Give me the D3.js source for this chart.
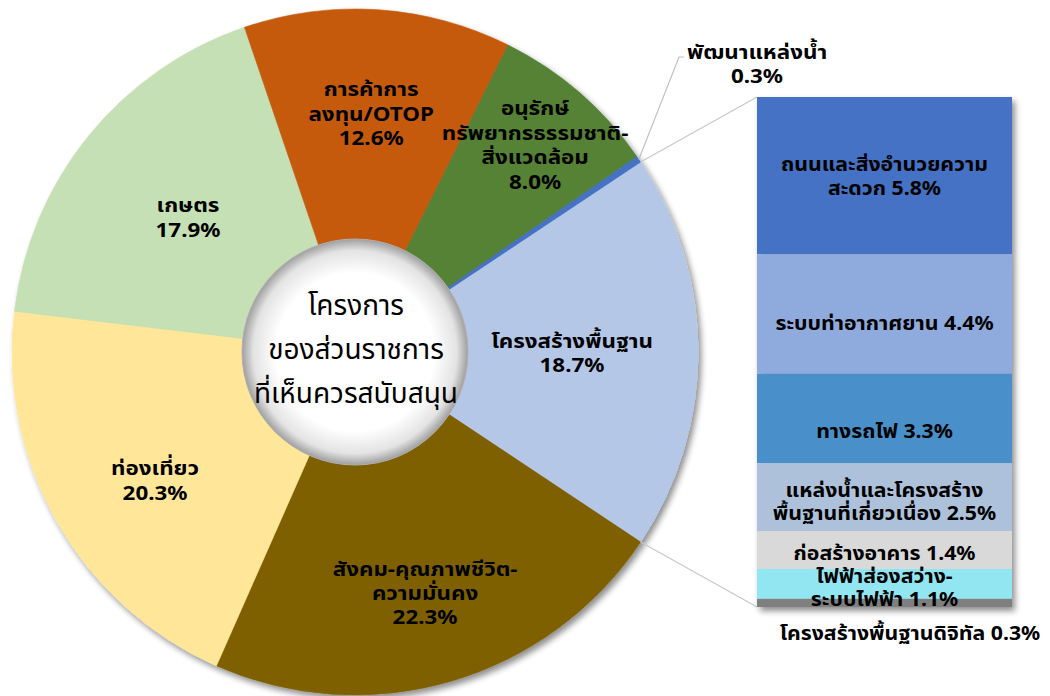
<!DOCTYPE html>
<html>
<head>
<meta charset="utf-8">
<script src="https://cdn.jsdelivr.net/npm/d3@7"></script>
<style>
  html, body { margin: 0; padding: 0; background: #ffffff; }
  svg { display: block; }
  text { font-family: "Noto Sans", "Noto Sans Thai", "DejaVu Sans", sans-serif; }
</style>
</head>
<body>
<div id="chart"></div>
<script>
// ---------- DATA ----------
const pieCategories = ["โครงสร้างพื้นฐาน", "สังคม-คุณภาพชีวิต-ความมั่นคง", "ท่องเที่ยว", "เกษตร", "การค้าการลงทุน/OTOP", "อนุรักษ์ทรัพยากรธรรมชาติ-สิ่งแวดล้อม", "พัฒนาแหล่งน้ำ"];
const pieValues = [18.7, 22.3, 20.3, 17.9, 12.6, 8.0, 0.3];
const pieLabelLines = [
  ["โครงสร้างพื้นฐาน", "18.7%"],
  ["สังคม-คุณภาพชีวิต-", "ความมั่นคง", "22.3%"],
  ["ท่องเที่ยว", "20.3%"],
  ["เกษตร", "17.9%"],
  ["การค้าการ", "ลงทุน/OTOP", "12.6%"],
  ["อนุรักษ์", "ทรัพยากรธรรมชาติ-", "สิ่งแวดล้อม", "8.0%"],
  ["พัฒนาแหล่งน้ำ", "0.3%"]
];
const barCategories = ["ถนนและสิ่งอำนวยความสะดวก", "ระบบท่าอากาศยาน", "ทางรถไฟ", "แหล่งน้ำและโครงสร้างพื้นฐานที่เกี่ยวเนื่อง", "ก่อสร้างอาคาร", "ไฟฟ้าส่องสว่าง-ระบบไฟฟ้า", "โครงสร้างพื้นฐานดิจิทัล"];
const barValues = [5.8, 4.4, 3.3, 2.5, 1.4, 1.1, 0.3];
const barLabelLines = [
  ["ถนนและสิ่งอำนวยความ", "สะดวก 5.8%"],
  ["ระบบท่าอากาศยาน 4.4%"],
  ["ทางรถไฟ 3.3%"],
  ["แหล่งน้ำและโครงสร้าง", "พื้นฐานที่เกี่ยวเนื่อง 2.5%"],
  ["ก่อสร้างอาคาร 1.4%"],
  ["ไฟฟ้าส่องสว่าง-", "ระบบไฟฟ้า 1.1%"],
  ["โครงสร้างพื้นฐานดิจิทัล 0.3%"]
];
const centerLines = ["โครงการ", "ของส่วนราชการ", "ที่เห็นควรสนับสนุน"];

// ---------- STYLE / LAYOUT ----------
const pieColors = ["#B4C7E7", "#7F6000", "#FFE699", "#C5E0B4", "#C55A11", "#548235", "#4472C4"];
const barColors = ["#4472C4", "#8FAADC", "#4A90CB", "#ADC2DA", "#D9D9D9", "#92E6F1", "#7F7F7F"];
const W = 1050, H = 696;
const cx = 355, cy = 352, R = 343, innerR = 113;
const labelRadius = [217, 250, 237, 215, 240, 275];
const labelAngleShift = [0, 0, -2.8, 0, 0, 0]; // degrees
const barX0 = 757, barX1 = 1012, barY0 = 97, barY1 = 607;
const barLabelDy = [0, 8, 12, 4, 2, 3];
const SX = 1.12;

const svg = d3.select("#chart").append("svg").attr("width", W).attr("height", H);
const defs = svg.append("defs");

const sh = defs.append("filter").attr("id", "shadow").attr("x", "-10%").attr("y", "-10%").attr("width", "120%").attr("height", "120%");
sh.append("feGaussianBlur").attr("in", "SourceAlpha").attr("stdDeviation", 3).attr("result", "b");
sh.append("feOffset").attr("in", "b").attr("dx", 3).attr("dy", 4).attr("result", "o");
sh.append("feComponentTransfer").attr("in", "o").attr("result", "o2")
  .append("feFuncA").attr("type", "linear").attr("slope", 0.45);
const m = sh.append("feMerge");
m.append("feMergeNode").attr("in", "o2");
m.append("feMergeNode").attr("in", "SourceGraphic");

const rg = defs.append("radialGradient").attr("id", "centerGrad").attr("cx", "50%").attr("cy", "50%").attr("r", "50%");
rg.append("stop").attr("offset", "0%").attr("stop-color", "#ffffff");
rg.append("stop").attr("offset", "70%").attr("stop-color", "#ffffff");
rg.append("stop").attr("offset", "90%").attr("stop-color", "#e3e3e3");
rg.append("stop").attr("offset", "100%").attr("stop-color", "#9f9f9f");

function drawLabel(x, y, lines, size, lh, weight, sx) {
  const t = svg.append("text")
    .attr("transform", `translate(${x},${y}) scale(${sx},1)`)
    .attr("text-anchor", "middle").attr("font-size", size)
    .attr("font-weight", weight).attr("fill", "#000");
  lines.forEach((s, k) => {
    t.append("tspan").attr("x", 0).attr("y", (k - (lines.length - 1) / 2) * lh)
      .attr("dominant-baseline", "central").text(s);
  });
  return t;
}

// ---------- PIE ----------
const total = d3.sum(pieValues);
const startA = Math.PI / 2 - Math.PI * pieValues[0] / total;
const pie = d3.pie().sort(null).value(d => d).startAngle(startA).endAngle(startA + 2 * Math.PI);
const arcs = pie(pieValues);
const arc = d3.arc().innerRadius(0).outerRadius(R);

const g = svg.append("g").attr("transform", `translate(${cx},${cy})`);
const gp = g.append("g").attr("filter", "url(#shadow)");
gp.selectAll("path").data(arcs).join("path")
  .attr("d", arc)
  .attr("fill", (d, i) => pieColors[i])
  .attr("stroke", (d, i) => pieColors[i])
  .attr("stroke-width", 0.6);

// connector lines
const pt = (a, r) => [cx + r * Math.sin(a), cy - r * Math.cos(a)];
const other = arcs[0];
const pTop = pt(other.startAngle, R), pBot = pt(other.endAngle, R);
svg.append("line").attr("x1", pTop[0]).attr("y1", pTop[1]).attr("x2", barX0).attr("y2", barY0)
  .attr("stroke", "#c8c8c8").attr("stroke-width", 1.2);
svg.append("line").attr("x1", pBot[0]).attr("y1", pBot[1]).attr("x2", barX0).attr("y2", barY1)
  .attr("stroke", "#c8c8c8").attr("stroke-width", 1.2);

// center circle
g.append("circle").attr("r", innerR).attr("fill", "url(#centerGrad)")
  .attr("stroke", "#b0b0b0").attr("stroke-width", 1);
drawLabel(cx + 1, cy - 4, centerLines, 28, 44, "normal", 1.0);

// pie labels
arcs.slice(0, 6).forEach((d, i) => {
  const a = (d.startAngle + d.endAngle) / 2 + labelAngleShift[i] * Math.PI / 180;
  const [lx, ly] = pt(a, labelRadius[i]);
  drawLabel(lx, ly, pieLabelLines[i], 20, 24.5, "bold", SX);
});

// small slice label with leader
const small = arcs[6];
const ps = pt((small.startAngle + small.endAngle) / 2, R);
svg.append("polyline").attr("points", [ps, [679, 57], [684, 57]].map(p => p.join(",")).join(" "))
  .attr("fill", "none").attr("stroke", "#bfbfbf").attr("stroke-width", 1.2);
drawLabel(757, 63, pieLabelLines[6], 20, 24, "bold", SX);

// ---------- BAR ----------
const barTotal = d3.sum(barValues);
const y = d3.scaleLinear().domain([0, barTotal]).range([barY0, barY1]);
const cum = d3.cumsum(barValues);
const segs = barValues.map((v, i) => ({ v, i, y0: y(cum[i] - v), y1: y(cum[i]) }));
const gb = svg.append("g").attr("filter", "url(#shadow)");
gb.selectAll("rect").data(segs).join("rect")
  .attr("x", barX0).attr("width", barX1 - barX0)
  .attr("y", d => d.y0).attr("height", d => d.y1 - d.y0)
  .attr("fill", d => barColors[d.i]);

segs.forEach((d, i) => {
  let lx = (barX0 + barX1) / 2, ly = (d.y0 + d.y1) / 2 + barLabelDy[i];
  if (i === 6) { lx = 910; ly = d.y1 + 25; }
  drawLabel(lx, ly, barLabelLines[i], 19, 23.5, "bold", SX);
});
</script>
</body>
</html>
